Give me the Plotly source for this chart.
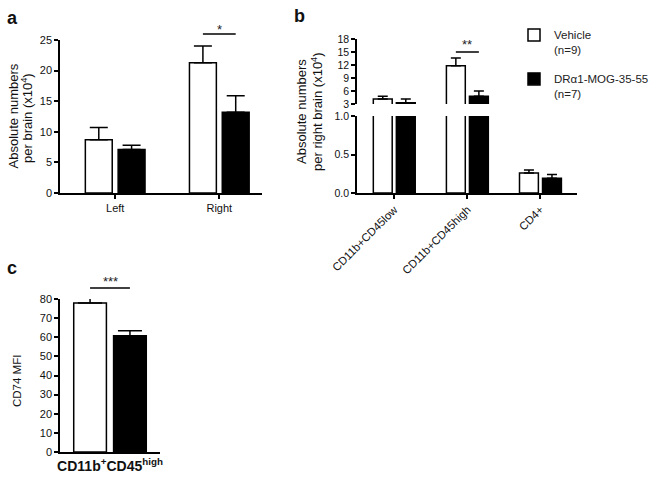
import plotly.graph_objects as go

W, H = 654, 478
def px(x): return x / W
def py(y): return 1 - y / H

# ---------------- data ----------------
series_names = ["Vehicle<br>(n=9)", "DRα1-MOG-35-55<br>(n=7)"]

# Panel a: absolute numbers per brain (x10^4)
a_cats = ["Left", "Right"]
a_vehicle = [8.7, 21.3]
a_vehicle_err = [2.0, 2.7]
a_drug = [7.1, 13.2]
a_drug_err = [0.7, 2.7]

# Panel b: absolute numbers per right brain (x10^4)
b_cats = ["CD11b+CD45low", "CD11b+CD45high", "CD4+"]
b_vehicle = [4.15, 11.8, 0.26]
b_vehicle_err = [0.65, 1.8, 0.04]
b_drug = [3.3, 4.8, 0.19]
b_drug_err = [0.85, 1.2, 0.05]

# Panel c: CD74 MFI
c_cats = ["<b>CD11b<sup>+</sup>CD45<sup>high</sup></b>"]
c_vehicle = [77.9]
c_vehicle_err = [2.6]
c_drug = [60.8]
c_drug_err = [2.6]

# significance marks: (category index, label)
sig_a = [(1, "*")]
sig_b = [(1, "**")]
sig_c = [(0, "***")]

FONT = "Arial, Liberation Sans, sans-serif"
BARGAP = 0.37
GROUPGAP = 0.18
OFF = (1 - BARGAP) / 4  # centre offset of each bar in a group

fig = go.Figure()

def add_bars(cats, veh, veh_err, drug, drug_err, xa, ya, showlegend, capw):
    xs = list(range(len(cats)))
    for vals, errs, fill, name, grp in [
        (veh, veh_err, "white", series_names[0], "veh"),
        (drug, drug_err, "black", series_names[1], "drug"),
    ]:
        fig.add_trace(go.Bar(
            x=xs, y=vals, name=name, legendgroup=grp, showlegend=showlegend,
            marker=dict(color=fill, line=dict(color="black", width=1.5)),
            error_y=dict(type="data", symmetric=False, array=errs,
                         arrayminus=[0] * len(errs), color="black",
                         thickness=1.5, width=capw),
            xaxis=xa, yaxis=ya,
        ))

add_bars(a_cats, a_vehicle, a_vehicle_err, a_drug, a_drug_err, "x", "y", True, 9)
add_bars(b_cats, b_vehicle, b_vehicle_err, b_drug, b_drug_err, "x2", "y2", False, 5)
add_bars(b_cats, b_vehicle, b_vehicle_err, b_drug, b_drug_err, "x2", "y3", False, 5)
add_bars(c_cats, c_vehicle, c_vehicle_err, c_drug, c_drug_err, "x3", "y4", False, 12)

def axis_common(size=11):
    return dict(showline=True, linecolor="black", linewidth=1.5,
                ticks="outside", ticklen=4, tickwidth=1.5, tickcolor="black",
                showgrid=False, zeroline=False, automargin=False,
                tickfont=dict(family=FONT, size=size, color="#111"))

fig.update_layout(
    width=W, height=H, autosize=False,
    margin=dict(l=0, r=0, t=0, b=0, autoexpand=False),
    paper_bgcolor="white", plot_bgcolor="white",
    barmode="group", bargap=BARGAP, bargroupgap=GROUPGAP,
    font=dict(family=FONT, size=11, color="#111"),
    xaxis=dict(domain=[px(60), px(262)], range=[-0.53, 1.41], anchor="y",
               tickvals=list(range(len(a_cats))), ticktext=a_cats, **axis_common(11)),
    yaxis=dict(domain=[py(193), py(40)], range=[0, 25], dtick=5, anchor="x",
               **axis_common(11)),
    xaxis2=dict(domain=[px(357), px(577)], range=[-0.51, 2.5], anchor="y2",
                tickvals=list(range(len(b_cats))), ticktext=b_cats, tickangle=-45,
                **axis_common(11.3)),
    yaxis2=dict(domain=[py(193), py(116)], range=[0, 1], tickvals=[0, 0.5, 1],
                tickformat=".1f", anchor="x2", **axis_common(10.5)),
    yaxis3=dict(domain=[py(104), py(39)], range=[3, 18],
                tickvals=[3, 6, 9, 12, 15, 18], anchor="x2", **axis_common(10.5)),
    xaxis3=dict(domain=[px(60), px(160)], range=[-0.395, 0.395], anchor="y4",
                tickvals=[0], ticktext=c_cats,
                **{**axis_common(), "ticks": "",
                   "tickfont": dict(family=FONT, size=14, color="#111")}),
    yaxis4=dict(domain=[py(452), py(299)], range=[0, 80], dtick=10, anchor="x3",
                **axis_common(11)),
    legend=dict(x=px(514), y=py(21), xref="container", yref="container",
                xanchor="left", yanchor="top",
                font=dict(family=FONT, size=11.5, color="#222"),
                valign="top", traceorder="grouped", tracegroupgap=11,
                itemwidth=30, bgcolor="rgba(0,0,0,0)"),
)

anns = []
shapes = []
def sig(xref, items, line_y, star_y, size):
    for idx, label in items:
        shapes.append(dict(type="line", xref=xref, yref="paper",
                           x0=idx - OFF, x1=idx + OFF, y0=py(line_y), y1=py(line_y),
                           line=dict(color="black", width=1.5)))
        anns.append(dict(x=idx, y=py(star_y), xref=xref, yref="paper",
                         xanchor="center", yanchor="middle",
                         text=label, showarrow=False,
                         font=dict(family=FONT, size=size, color="#222")))

sig("x", sig_a, 34, 29, 13)
sig("x2", sig_b, 52, 44, 13)
sig("x3", sig_c, 288, 281, 13)

def label(x, y, text, size=11.5, angle=0):
    anns.append(dict(x=px(x), y=py(y), xref="paper", yref="paper", text=text,
                     xanchor="center", yanchor="middle",
                     showarrow=False, textangle=angle,
                     font=dict(family=FONT, size=size, color="#111")))

label(13.5, 116, "Absolute numbers", 13, -90)
label(27, 118, "per brain (x10<sup>4</sup>)", 13, -90)
label(302, 112, "Absolute numbers", 13, -90)
label(317, 112, "per right brain (x10<sup>4</sup>)", 13, -90)
label(17, 381, "CD74 MFI", 11.5, -90)
label(12, 18, "<b>a</b>", 18)
label(299, 16, "<b>b</b>", 18)
label(12, 268, "<b>c</b>", 18)

fig.update_layout(annotations=anns, shapes=shapes)
fig.write_html("out.html", config={"displayModeBar": False},
               post_script="document.body.style.margin='0';document.body.style.padding='0';")
